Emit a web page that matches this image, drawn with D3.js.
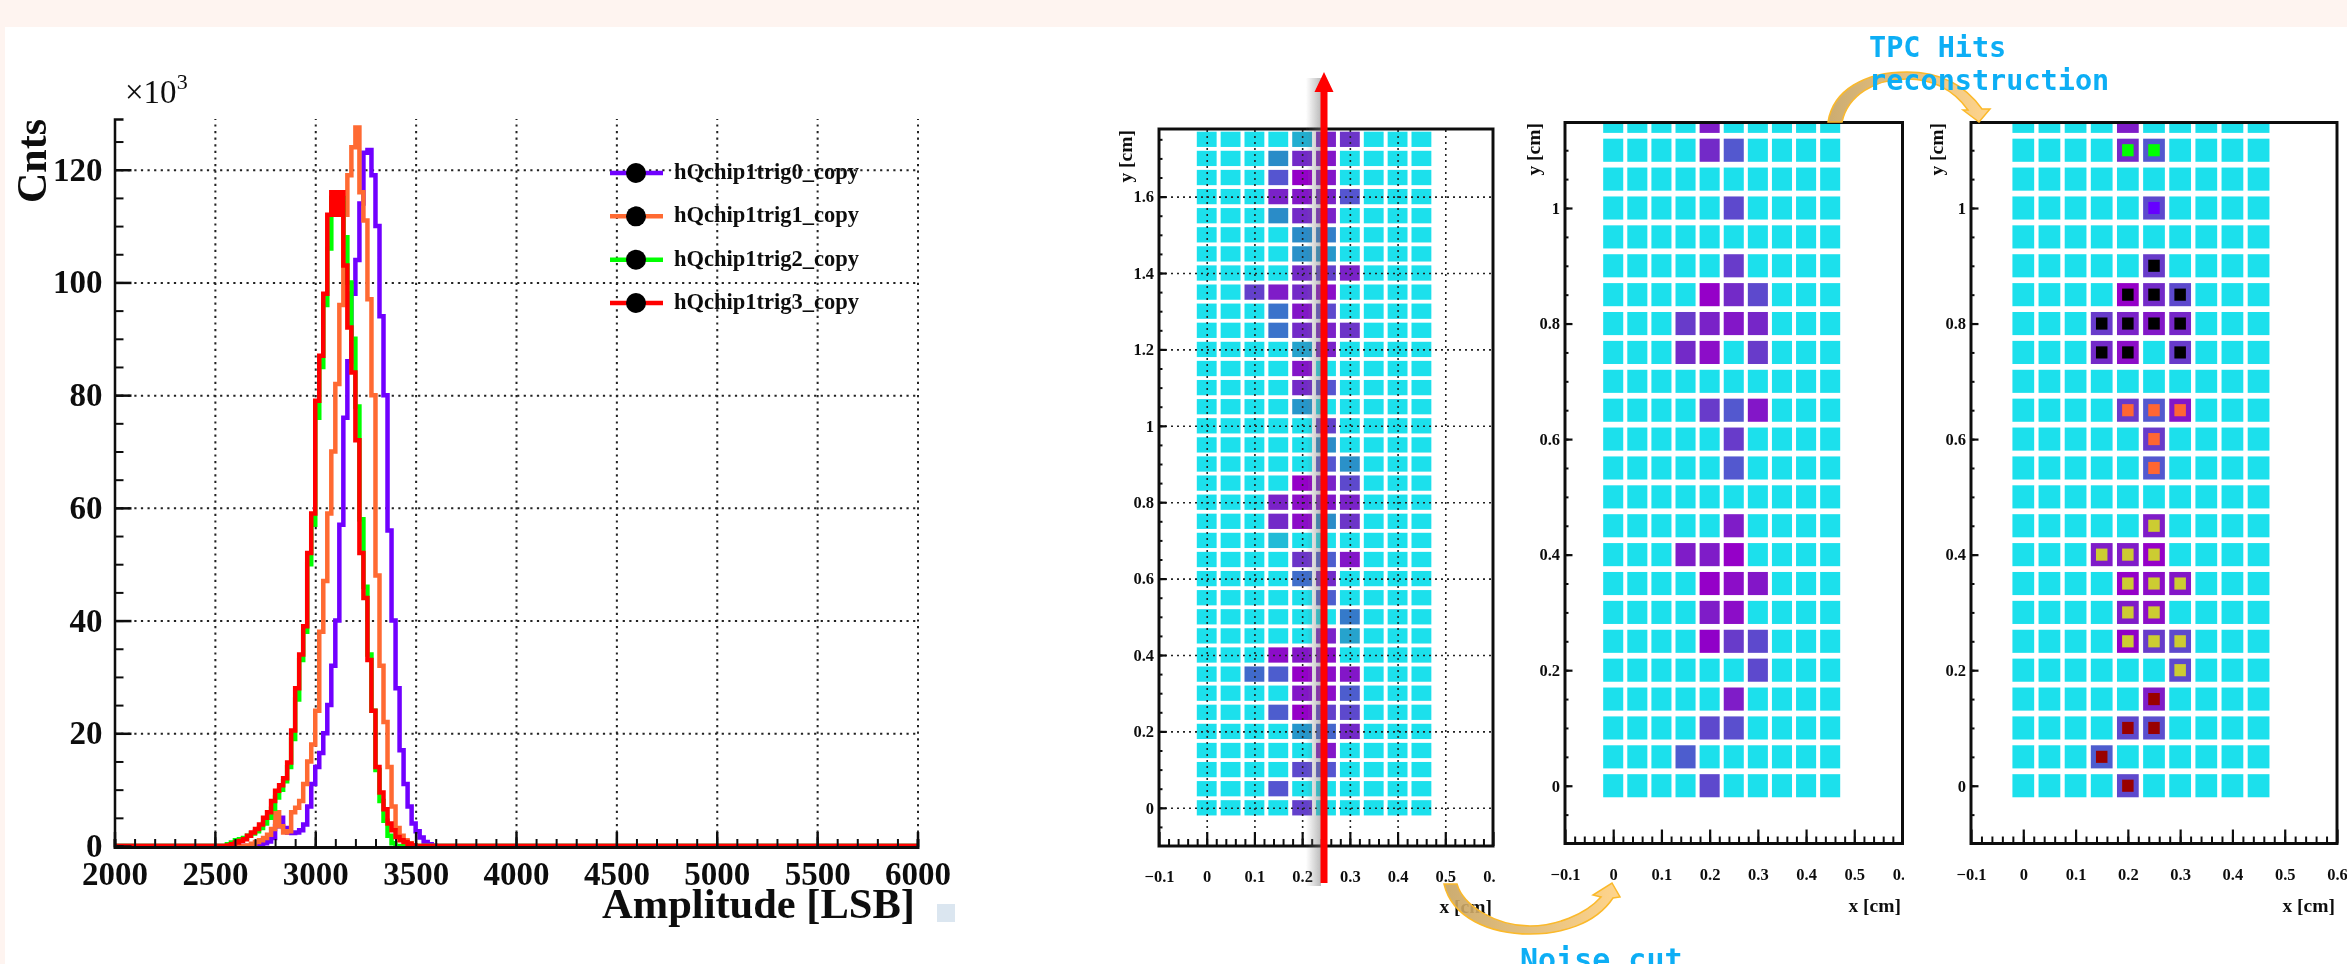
<!DOCTYPE html>
<html>
<head>
<meta charset="utf-8">
<script src="https://cdn.jsdelivr.net/npm/d3@7"></script>
<style>
    html, body { margin: 0; padding: 0; background: #fff; overflow: hidden; }
    svg { display: block; }
    text { font-family: "Liberation Serif", serif; font-weight: bold; fill: #111; }
    .note { font-family: "DejaVu Sans Mono", monospace; font-weight: bold; fill: #0aaef5; }
</style>
</head>
<body>
<svg width="2347" height="964"></svg>
<script>
// histogram: amplitude bins, counts in units of 10^3
const binStarts = d3.range(2560, 3620, 20);
const trig0 = [0,0,0,0,0,0,0,.1,.3,.5, .8,1.4,3.5,5,3.2,2.4,2.3,2.4,2.8,3.8, 7,11,14,16.5,20,25,32,40,57,76, 86,98,104,114,123,123.5,119,110,94,80, 56,40,28,17,11,7,4,2.6,1.5,.7, .3,.1,0];
const trig1 = [0,0,0,0,0,.1,.4,.7,1,1.4, 2,3,6,3.5,2.4,2.6,6,6.8,8,11, 15,18,24,38,47,59,70,82,96,112, 119,124,127.5,116,111,97,80,48,32,22, 14,7,3.2,1.8,1,.5,.1,0,0,0, 0,0,0];
const trig2 = [.3,.6,1,1.2,1.4,1.8,2.2,2.6,3.2,4, 5,6.6,8.6,10,11.5,14,19,26,33,38, 50,57,76,85,96,106,115,115,115,108, 100,90,78,58,46,34,24,13.5,8,4.5, 1.8,.5,0,0,0,0,0,0,0,0, 0,0,0];
const trig3 = [.1,.3,.6,.9,1.2,1.8,2.4,3,3.8,5, 6,8,9.8,10.8,12,14.8,20.5,28,34,39, 52,59,79,87,98,112,116,112,116,103, 92,84,72,52,44,33,24,14,9.5,6.5, 4,2.8,1.6,1,.7,.4,.1,0,0,0, 0,0,0];
const seriesNames = ["hQchip1trig0_copy", "hQchip1trig1_copy", "hQchip1trig2_copy", "hQchip1trig3_copy"];
const seriesColors = ["#6f00ff", "#ff6a33", "#00ff00", "#ff0000"];
const histXTicks = [2000, 2500, 3000, 3500, 4000, 4500, 5000, 5500, 6000];
const histYTicks = [0, 20, 40, 60, 80, 100, 120];

// pad map: column positions, row positions, [x, y, level] of the pads over threshold
const padCols = [0, .05, .1, .15, .2, .25, .3, .35, .4, .45];
const rowsRaw = d3.range(0, 36).map(i => i * .05);
const rowsCut = d3.range(0, 24).map(i => i * .05);
const rawHits = [
    [.2,1.75,.2],[.25,1.75,.85],[.3,1.75,.75],
    [.15,1.7,.35],[.2,1.7,.8],[.25,1.7,.9],
    [.15,1.65,.6],[.2,1.65,1],[.25,1.65,.9],
    [.15,1.6,.85],[.2,1.6,.9],[.25,1.6,.85],[.3,1.6,.6],
    [.15,1.55,.35],[.2,1.55,.8],[.25,1.55,.85],
    [.2,1.5,.35],[.25,1.5,.4],
    [.2,1.45,.33],[.25,1.45,.3],
    [.2,1.4,.8],[.25,1.4,.7],[.3,1.4,.85],
    [.1,1.35,.7],[.15,1.35,.88],[.2,1.35,.8],[.25,1.35,.95],
    [.15,1.3,.45],[.2,1.3,.9],[.25,1.3,.65],
    [.15,1.25,.45],[.2,1.25,.8],[.25,1.25,.85],[.3,1.25,.75],
    [.2,1.2,.25],[.25,1.2,.85],
    [.2,1.15,.9],
    [.2,1.1,.8],[.25,1.1,.6],
    [.2,1.05,.3],
    [.25,1,.7],
    [.25,.95,.35],
    [.25,.9,.6],[.3,.9,.33],
    [.2,.85,1],[.25,.85,.85],[.3,.85,.65],
    [.15,.8,.85],[.2,.8,.95],[.25,.8,.9],[.3,.8,.85],
    [.15,.75,.8],[.2,.75,.95],[.25,.75,.35],[.3,.75,.75],
    [.15,.7,.15],
    [.2,.65,.75],[.25,.65,.55],[.3,.65,.9],
    [.2,.6,.47],[.25,.6,.8],
    [.25,.55,.55],
    [.3,.5,.42],
    [.25,.45,.85],[.3,.45,.25],
    [.15,.4,.95],[.2,.4,.9],[.25,.4,.95],
    [.1,.35,.48],[.15,.35,.55],[.2,.35,1],[.25,.35,.95],[.3,.35,.9],
    [.2,.3,.9],[.25,.3,.95],[.3,.3,.55],
    [.15,.25,.55],[.2,.25,1],[.25,.25,.7],[.3,.25,.65],
    [.2,.2,.3],[.25,.2,.5],[.3,.2,.8],
    [.25,.15,.9],
    [.2,.1,.65],[.25,.1,.6],
    [.15,.05,.6],
    [.2,0,.7]
];
const cutHits = [
    [.2,1.15,.88],
    [.2,1.1,.8],[.25,1.1,.58],
    [.25,1,.65],
    [.25,.9,.72],
    [.2,.85,1],[.25,.85,.8],[.3,.85,.65],
    [.15,.8,.72],[.2,.8,.85],[.25,.8,.9],[.3,.8,.82],
    [.15,.75,.8],[.2,.75,.95],[.3,.75,.72],
    [.2,.65,.72],[.25,.65,.58],[.3,.65,.9],
    [.25,.6,.72],
    [.25,.55,.58],
    [.25,.45,.88],
    [.15,.4,.88],[.2,.4,.88],[.25,.4,1],
    [.2,.35,1],[.25,.35,.95],[.3,.35,.9],
    [.2,.3,.88],[.25,.3,.95],
    [.2,.25,.97],[.25,.25,.72],[.3,.25,.65],
    [.3,.2,.65],
    [.25,.15,.88],
    [.2,.1,.65],[.25,.1,.63],
    [.15,.05,.55],
    [.2,0,.65]
];
// reconstructed hits, one list per cluster
const clusterGreen = [[.2,1.1],[.25,1.1]];
const clusterViolet = [[.25,1]];
const clusterBlack = [[.25,.9],[.2,.85],[.25,.85],[.3,.85],[.15,.8],[.2,.8],[.25,.8],[.3,.8],[.15,.75],[.2,.75],[.3,.75]];
const clusterOrange = [[.2,.65],[.25,.65],[.3,.65],[.25,.6],[.25,.55]];
const clusterYellow = [[.25,.45],[.15,.4],[.2,.4],[.25,.4],[.2,.35],[.25,.35],[.3,.35],[.2,.3],[.25,.3],[.2,.25],[.25,.25],[.3,.25],[.3,.2]];
const clusterRed = [[.25,.15],[.2,.1],[.25,.1],[.15,.05],[.2,0]];

const padXTicks = [-.1, 0, .1, .2, .3, .4, .5, .6];
const padYTicksLong = [0, .2, .4, .6, .8, 1, 1.2, 1.4, 1.6];
const padYTicksShort = [0, .2, .4, .6, .8, 1];

const levelColor = d3.scaleLinear()
    .domain([0, .2, .35, .5, .6, .75, .85, 1])
    .range(["#1de0ec", "#22aed0", "#2a8cc8", "#4466cc", "#5555d0", "#6c35c8", "#7a20c8", "#9500c8"]);

const svg = d3.select("svg");
const defs = svg.append("defs");
const soft = defs.append("filter").attr("id", "soft")
    .attr("filterUnits", "userSpaceOnUse")
    .attr("x", 0).attr("y", 0).attr("width", 2347).attr("height", 964);
soft.append("feGaussianBlur").attr("stdDeviation", .55);

const grad = defs.append("linearGradient").attr("id", "curveFill");
grad.append("stop").attr("offset", "0").attr("stop-color", "#c6a362");
grad.append("stop").attr("offset", "1").attr("stop-color", "#ffd080");

const shadow = defs.append("linearGradient").attr("id", "arrowShadow");
shadow.append("stop").attr("offset", "0").attr("stop-color", "#777").attr("stop-opacity", 0);
shadow.append("stop").attr("offset", "1").attr("stop-color", "#777").attr("stop-opacity", .5);

// page background
svg.append("rect").attr("width", 2347).attr("height", 964).attr("fill", "#fff");
svg.append("rect").attr("width", 2347).attr("height", 27).attr("fill", "#fef4f0");
svg.append("rect").attr("width", 5).attr("height", 964).attr("fill", "#fef4f0");

const root = svg.append("g").attr("filter", "url(#soft)");

drawHistogram();
drawPads({x0: 1159, x1: 1493, y0: 846, y1: 129, top: 1.777, rows: rowsRaw, hits: rawHits, yTicks: padYTicksLong, grid: true,
    clipRight: 1495, xLabelRight: 1492, xLabelY: 913, yLabelX: 1132, yLabelTop: 130, id: "p1"});
drawPads({x0: 1565, x1: 1902.5, y0: 843.5, y1: 122.5, top: 1.148, rows: rowsCut, hits: cutHits, yTicks: padYTicksShort, grid: false,
    clipRight: 1904, xLabelRight: 1901, xLabelY: 912, yLabelX: 1540, yLabelTop: 123, id: "p2"});
const panel3 = drawPads({x0: 1971, x1: 2337, y0: 843.5, y1: 122.5, top: 1.148, rows: rowsCut, hits: cutHits, yTicks: padYTicksShort, grid: false,
    clipRight: 2347, xLabelRight: 2335, xLabelY: 912, yLabelX: 1943, yLabelTop: 123, id: "p3"});

[[clusterGreen, "#00ff00"], [clusterViolet, "#6600ff"], [clusterBlack, "#000"],
 [clusterOrange, "#ff6633"], [clusterYellow, "#cccc33"], [clusterRed, "#990000"]].forEach(([list, color]) => {
    panel3.g.append("g").selectAll("rect").data(list).enter().append("rect")
        .attr("x", d => panel3.x(d[0] - .011))
        .attr("y", d => panel3.y(d[1] + .0105))
        .attr("width", panel3.x(.022) - panel3.x(0))
        .attr("height", panel3.y(0) - panel3.y(.021))
        .attr("fill", color);
});

drawAnnotations();

function drawHistogram() {
    const x = d3.scaleLinear().domain([2000, 6000]).range([114.5, 917.5]);
    const y = d3.scaleLinear().domain([0, 129]).range([846, 119]);
    const g = root.append("g");

    // dotted grid
    const gridX = g.append("g").attr("transform", "translate(0,846)")
        .call(d3.axisBottom(x).tickValues(histXTicks.slice(1)).tickSize(-727));
    const gridY = g.append("g").attr("transform", "translate(114.5,0)")
        .call(d3.axisLeft(y).tickValues(histYTicks.slice(1)).tickSize(-803));
    [gridX, gridY].forEach(a => {
        a.select(".domain").remove();
        a.selectAll("text").remove();
        a.selectAll("line").attr("stroke", "#222").attr("stroke-width", 2).attr("stroke-dasharray", "2.2 4.4");
    });

    const line = d3.line().x(d => x(d[0])).y(d => y(d[1])).curve(d3.curveStepAfter);
    [trig0, trig1, trig2, trig3].forEach((vals, i) => {
        const pts = [[2000, 0]].concat(binStarts.map((b, k) => [b, vals[k]]), [[6000, 0]]);
        g.append("path").attr("d", line(pts)).attr("fill", "none")
            .attr("stroke", seriesColors[i]).attr("stroke-width", 4.5);
    });

    // axes, ticks point into the plot
    const minorX = g.append("g").attr("transform", "translate(0,847)")
        .call(d3.axisBottom(x).tickValues(d3.range(2000, 6001, 100)).tickSize(-8));
    const minorY = g.append("g").attr("transform", "translate(114.5,0)")
        .call(d3.axisLeft(y).tickValues(d3.range(0, 129, 5)).tickSize(-9));
    [minorX, minorY].forEach(a => {
        a.selectAll("text").remove();
        a.selectAll("line").attr("stroke", "#111").attr("stroke-width", 2);
    });
    minorX.select(".domain").attr("stroke", "#111").attr("stroke-width", 3);
    minorY.select(".domain").attr("stroke", "#111").attr("stroke-width", 2.5);

    const axX = g.append("g").attr("transform", "translate(0,847)")
        .call(d3.axisBottom(x).tickValues(histXTicks).tickSizeInner(-15).tickSizeOuter(0).tickPadding(38).tickFormat(d3.format("d")));
    const axY = g.append("g").attr("transform", "translate(114.5,0)")
        .call(d3.axisLeft(y).tickValues(histYTicks).tickSizeInner(-17).tickSizeOuter(0).tickPadding(12).tickFormat(d3.format("d")));
    [axX, axY].forEach(a => {
        a.select(".domain").remove();
        a.selectAll("line").attr("stroke", "#111").attr("stroke-width", 2.5);
        a.selectAll("text").style("font-family", '"Liberation Serif", serif').style("font-weight", "bold")
            .style("font-size", "33px").attr("fill", "#111");
    });
    axX.selectAll("text").attr("dy", 0).attr("y", 38);

    g.append("text").attr("transform", "translate(46,161) rotate(-90)").attr("text-anchor", "middle")
        .style("font-size", "42px").text("Cnts");
    g.append("text").attr("x", 915).attr("y", 918).attr("text-anchor", "end")
        .style("font-size", "42.5px").text("Amplitude [LSB]");

    const mult = g.append("text").attr("x", 125).attr("y", 103).style("font-size", "33px").style("font-weight", "normal");
    mult.append("tspan").text("\u00d710");
    mult.append("tspan").attr("dx", 0).attr("dy", -14).style("font-size", "22px").text("3");

    g.append("rect").attr("x", 937).attr("y", 904).attr("width", 18).attr("height", 18).attr("fill", "#dbe6f0");

    // legend
    const legendY = d3.scalePoint().domain(seriesNames).range([173, 303]);
    const items = g.append("g").selectAll("g").data(seriesNames).enter().append("g")
        .attr("transform", d => "translate(0," + legendY(d) + ")");
    items.append("line").attr("x1", 610).attr("x2", 663)
        .attr("stroke", (d, i) => seriesColors[i]).attr("stroke-width", 4.5);
    items.append("circle").attr("cx", 636).attr("r", 10).attr("fill", "#000");
    items.append("text").attr("x", 674).attr("y", 6).style("font-size", "22.5px").text(d => d);
}

function drawPads(p) {
    const x = d3.scaleLinear().domain([-.1, .6]).range([p.x0, p.x1]);
    const y = d3.scaleLinear().domain([-.1, p.top]).range([p.y0, p.y1]);
    const g = root.append("g");

    defs.append("clipPath").attr("id", p.id).append("rect")
        .attr("x", p.x0).attr("y", p.y1).attr("width", p.x1 - p.x0).attr("height", p.y0 - p.y1);
    // the last x label runs into the next panel in the reference
    defs.append("clipPath").attr("id", p.id + "l").append("rect")
        .attr("x", p.x0 - 100).attr("y", p.y0 - 30).attr("width", p.clipRight - p.x0 + 100).attr("height", 130);

    const cells = g.append("g").attr("clip-path", "url(#" + p.id + ")");
    const hitLevel = new Map(p.hits.map(h => [h[0].toFixed(2) + "/" + h[1].toFixed(2), h[2]]));
    p.rows.forEach(r => {
        cells.append("g").selectAll("rect").data(padCols).enter().append("rect")
            .attr("x", c => x(c - .0208))
            .attr("y", y(r + .02))
            .attr("width", x(.0416) - x(0))
            .attr("height", y(0) - y(.04))
            .attr("fill", c => levelColor(hitLevel.get(c.toFixed(2) + "/" + r.toFixed(2)) || 0));
    });

    if (p.grid) {
        const gx = g.append("g").attr("transform", "translate(0," + p.y0 + ")")
            .call(d3.axisBottom(x).tickValues([0, .1, .2, .3, .4, .5]).tickSize(-(p.y0 - p.y1)));
        const gy = g.append("g").attr("transform", "translate(" + p.x0 + ",0)")
            .call(d3.axisLeft(y).tickValues(p.yTicks).tickSize(-(p.x1 - p.x0)));
        [gx, gy].forEach(a => {
            a.select(".domain").remove();
            a.selectAll("text").remove();
            a.selectAll("line").attr("stroke", "#222").attr("stroke-width", 1.6).attr("stroke-dasharray", "2 4");
        });
    }

    const minorX = g.append("g").attr("transform", "translate(0," + p.y0 + ")")
        .call(d3.axisBottom(x).tickValues(d3.range(-4, 31).map(i => i * .02).filter(v => v > -.1 && v < .6)).tickSize(-7));
    const minorY = g.append("g").attr("transform", "translate(" + p.x0 + ",0)")
        .call(d3.axisLeft(y).tickValues(d3.range(-1, 36).map(i => i * .05).filter(v => v < p.top)).tickSize(-3.5));
    [minorX, minorY].forEach(a => {
        a.select(".domain").remove();
        a.selectAll("text").remove();
        a.selectAll("line").attr("stroke", "#111").attr("stroke-width", 2);
    });

    const axXWrap = g.append("g").attr("clip-path", "url(#" + p.id + "l)");
    const axX = axXWrap.append("g").attr("transform", "translate(0," + p.y0 + ")")
        .call(d3.axisBottom(x).tickValues(padXTicks).tickSizeInner(-14).tickSizeOuter(0).tickPadding(22).tickFormat(d3.format("~g")));
    const axY = g.append("g").attr("transform", "translate(" + p.x0 + ",0)")
        .call(d3.axisLeft(y).tickValues(p.yTicks).tickSizeInner(-7.5).tickSizeOuter(0).tickPadding(5).tickFormat(d3.format("~g")));
    [axX, axY].forEach(a => {
        a.select(".domain").remove();
        a.selectAll("line").attr("stroke", "#111").attr("stroke-width", 2.2);
        a.selectAll("text").style("font-family", '"Liberation Serif", serif').style("font-weight", "bold")
            .style("font-size", "16.5px").attr("fill", "#222");
    });
    axX.selectAll("text").attr("dy", 0).attr("y", 36);

    g.append("rect").attr("x", p.x0).attr("y", p.y1).attr("width", p.x1 - p.x0).attr("height", p.y0 - p.y1)
        .attr("fill", "none").attr("stroke", "#111").attr("stroke-width", 3);

    g.append("text").attr("x", p.xLabelRight).attr("y", p.xLabelY).attr("text-anchor", "end")
        .style("font-size", "19.5px").attr("fill", "#222").text("x [cm]");
    g.append("text").attr("transform", "translate(" + p.yLabelX + "," + p.yLabelTop + ") rotate(-90)")
        .attr("text-anchor", "end").style("font-size", "19.5px").text("y [cm]");

    return {g: g, x: x, y: y};
}

function drawAnnotations() {
    const g = root.append("g");

    // track arrow with its shadow on the first pad map
    g.append("rect").attr("x", 1306).attr("y", 78).attr("width", 15).attr("height", 808).attr("fill", "url(#arrowShadow)");
    g.append("path").attr("fill", "#ff0000")
        .attr("d", "M1324,72 L1333.5,92 L1327.5,92 L1327.5,883 L1320.5,883 L1320.5,92 L1314.5,92 Z");

    // curved arrows between the panels
    g.append("path").attr("fill", "url(#curveFill)").attr("fill-opacity", .9).attr("stroke", "#fbb92a").attr("stroke-width", 1.5)
        .attr("d", "M1828,122 L1842,122 C1848,95 1875,79 1907,79 C1935,79 1955,92 1968,110 L1963,110 L1979,122 L1990,109 L1982,109 C1965,85 1940,72 1907,72 C1865,72 1833,90 1828,122 Z");
    g.append("path").attr("fill", "url(#curveFill)").attr("fill-opacity", .9).attr("stroke", "#fbb92a").attr("stroke-width", 1.5)
        .attr("d", "M1444,884 L1457,884 C1463,905 1495,926 1530,926 C1555,926 1585,915 1601,897 L1593,895 L1612,883 L1620,897 L1613,898 C1595,925 1560,934 1530,934 C1490,934 1452,918 1444,884 Z");

    g.append("text").attr("class", "note").attr("x", 1869).attr("y", 57).style("font-size", "28.5px").text("TPC Hits");
    g.append("text").attr("class", "note").attr("x", 1869).attr("y", 90).style("font-size", "28.5px").text("reconstruction");
    g.append("text").attr("class", "note").attr("x", 1520).attr("y", 970).style("font-size", "30px").text("Noise cut");
}
</script>
</body>
</html>
